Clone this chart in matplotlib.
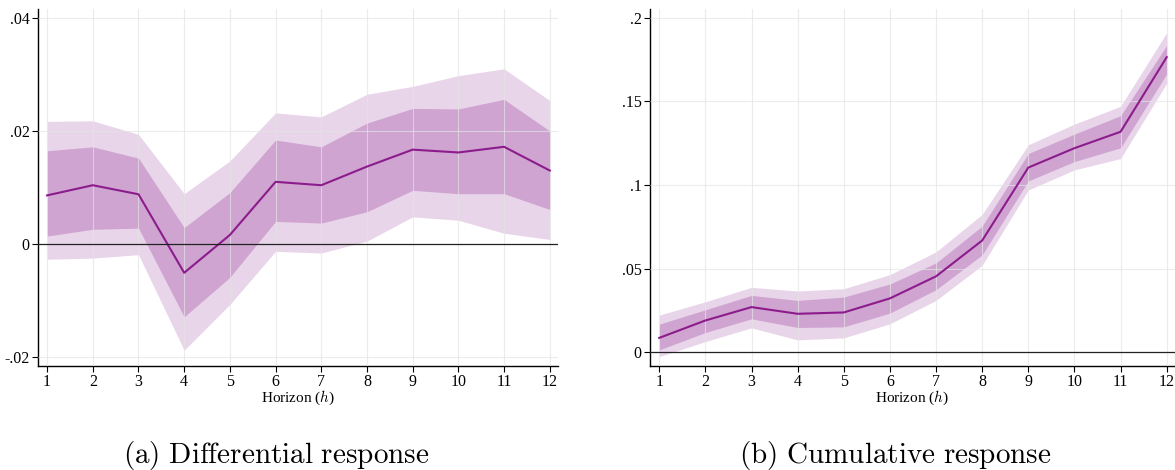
import matplotlib
matplotlib.use("Agg")
import matplotlib.pyplot as plt

horizon = list(range(1, 13))

# (a) Differential response
diff_point = [0.0086, 0.0104, 0.0088, -0.0051, 0.0016, 0.0110, 0.0104, 0.0137, 0.0167, 0.0162, 0.0172, 0.0130]
diff_in_lo = [0.0014, 0.0026, 0.0028, -0.0129, -0.0059, 0.0040, 0.0037, 0.0057, 0.0095, 0.0089, 0.0089, 0.0061]
diff_in_hi = [0.0165, 0.0172, 0.0152, 0.0029, 0.0091, 0.0184, 0.0172, 0.0214, 0.0240, 0.0239, 0.0256, 0.0200]
diff_out_lo = [-0.0027, -0.0025, -0.0019, -0.0188, -0.0107, -0.0013, -0.0016, 0.0005, 0.0048, 0.0042, 0.0019, 0.0008]
diff_out_hi = [0.0217, 0.0218, 0.0194, 0.0089, 0.0147, 0.0232, 0.0225, 0.0265, 0.0279, 0.0298, 0.0310, 0.0254]

# (b) Cumulative response
cum_point = [0.0086, 0.0190, 0.0270, 0.0230, 0.0238, 0.0322, 0.0454, 0.0668, 0.1104, 0.1220, 0.1318, 0.1764]
cum_in_lo = [0.0014, 0.0118, 0.0200, 0.0148, 0.0152, 0.0234, 0.0374, 0.0582, 0.1024, 0.1140, 0.1222, 0.1664]
cum_in_hi = [0.0168, 0.0254, 0.0340, 0.0310, 0.0330, 0.0408, 0.0534, 0.0754, 0.1188, 0.1304, 0.1414, 0.1834]
cum_out_lo = [-0.0026, 0.0064, 0.0146, 0.0074, 0.0086, 0.0170, 0.0310, 0.0520, 0.0970, 0.1090, 0.1158, 0.1608]
cum_out_hi = [0.0222, 0.0302, 0.0388, 0.0366, 0.0380, 0.0464, 0.0600, 0.0824, 0.1240, 0.1364, 0.1470, 0.1910]

diff_yticks = [-0.02, 0, 0.02, 0.04]
diff_yticklabels = ["-.02", "0", ".02", ".04"]
cum_yticks = [0, 0.05, 0.1, 0.15, 0.2]
cum_yticklabels = ["0", ".05", ".1", ".15", ".2"]

captions = ["(a) Differential response", "(b) Cumulative response"]

LIGHT = "#e9d5ea"
DARK = "#cfa4d1"
LINE = "#8c1c8c"
GRID = "#e4e4e4"

plt.rcParams["mathtext.fontset"] = "cm"
serif = ["Liberation Serif", "DejaVu Serif"]

fig = plt.figure(figsize=(11.75, 4.7), dpi=100)
ax1 = fig.add_axes([0.0323, 0.2213, 0.4426, 0.7596])
ax2 = fig.add_axes([0.5532, 0.2213, 0.4468, 0.7596])

def draw(ax, pt, ilo, ihi, olo, ohi, yticks, ylabels, ylim):
    ax.fill_between(horizon, olo, ohi, color=LIGHT, lw=0, zorder=1)
    ax.fill_between(horizon, ilo, ihi, color=DARK, lw=0, zorder=2)
    ax.plot(horizon, pt, color=LINE, lw=1.5, zorder=4)
    ax.axhline(0, color="#222222", lw=0.9, zorder=5)
    ax.set_xlim(0.8, 12.18)
    ax.set_ylim(*ylim)
    ax.set_xticks(horizon)
    ax.set_xticklabels([str(h) for h in horizon], family=serif, fontsize=11.5)
    ax.set_yticks(yticks)
    ax.set_yticklabels(ylabels, family=serif, fontsize=11.5)
    ax.grid(True, color=GRID, lw=0.8, alpha=0.7, zorder=3)
    ax.set_axisbelow(False)
    for s in ["top", "right"]:
        ax.spines[s].set_visible(False)
    for s in ["left", "bottom"]:
        ax.spines[s].set_color("black")
        ax.spines[s].set_linewidth(1.0)
    ax.tick_params(direction="out", length=4, width=0.8, pad=2, colors="black")
    ax.set_xlabel(r"Horizon ($\mathit{h}$)", family=serif, fontsize=11, labelpad=-1)

draw(ax1, diff_point, diff_in_lo, diff_in_hi, diff_out_lo, diff_out_hi,
     diff_yticks, diff_yticklabels, (-0.0216, 0.0416))
draw(ax2, cum_point, cum_in_lo, cum_in_hi, cum_out_lo, cum_out_hi,
     cum_yticks, cum_yticklabels, (-0.0082, 0.2052))
for ax in (ax1, ax2):
    for line in ax.get_xgridlines() + ax.get_ygridlines():
        line.set_zorder(3)

fig.text(276 / 1175, 1 - 455 / 470, r"$\mathrm{(a)\ Differential\ response}$",
         ha="center", va="center", fontsize=21)
fig.text(895 / 1175, 1 - 455 / 470, r"$\mathrm{(b)\ Cumulative\ response}$",
         ha="center", va="center", fontsize=21)

fig.savefig("out.png", dpi=100)
